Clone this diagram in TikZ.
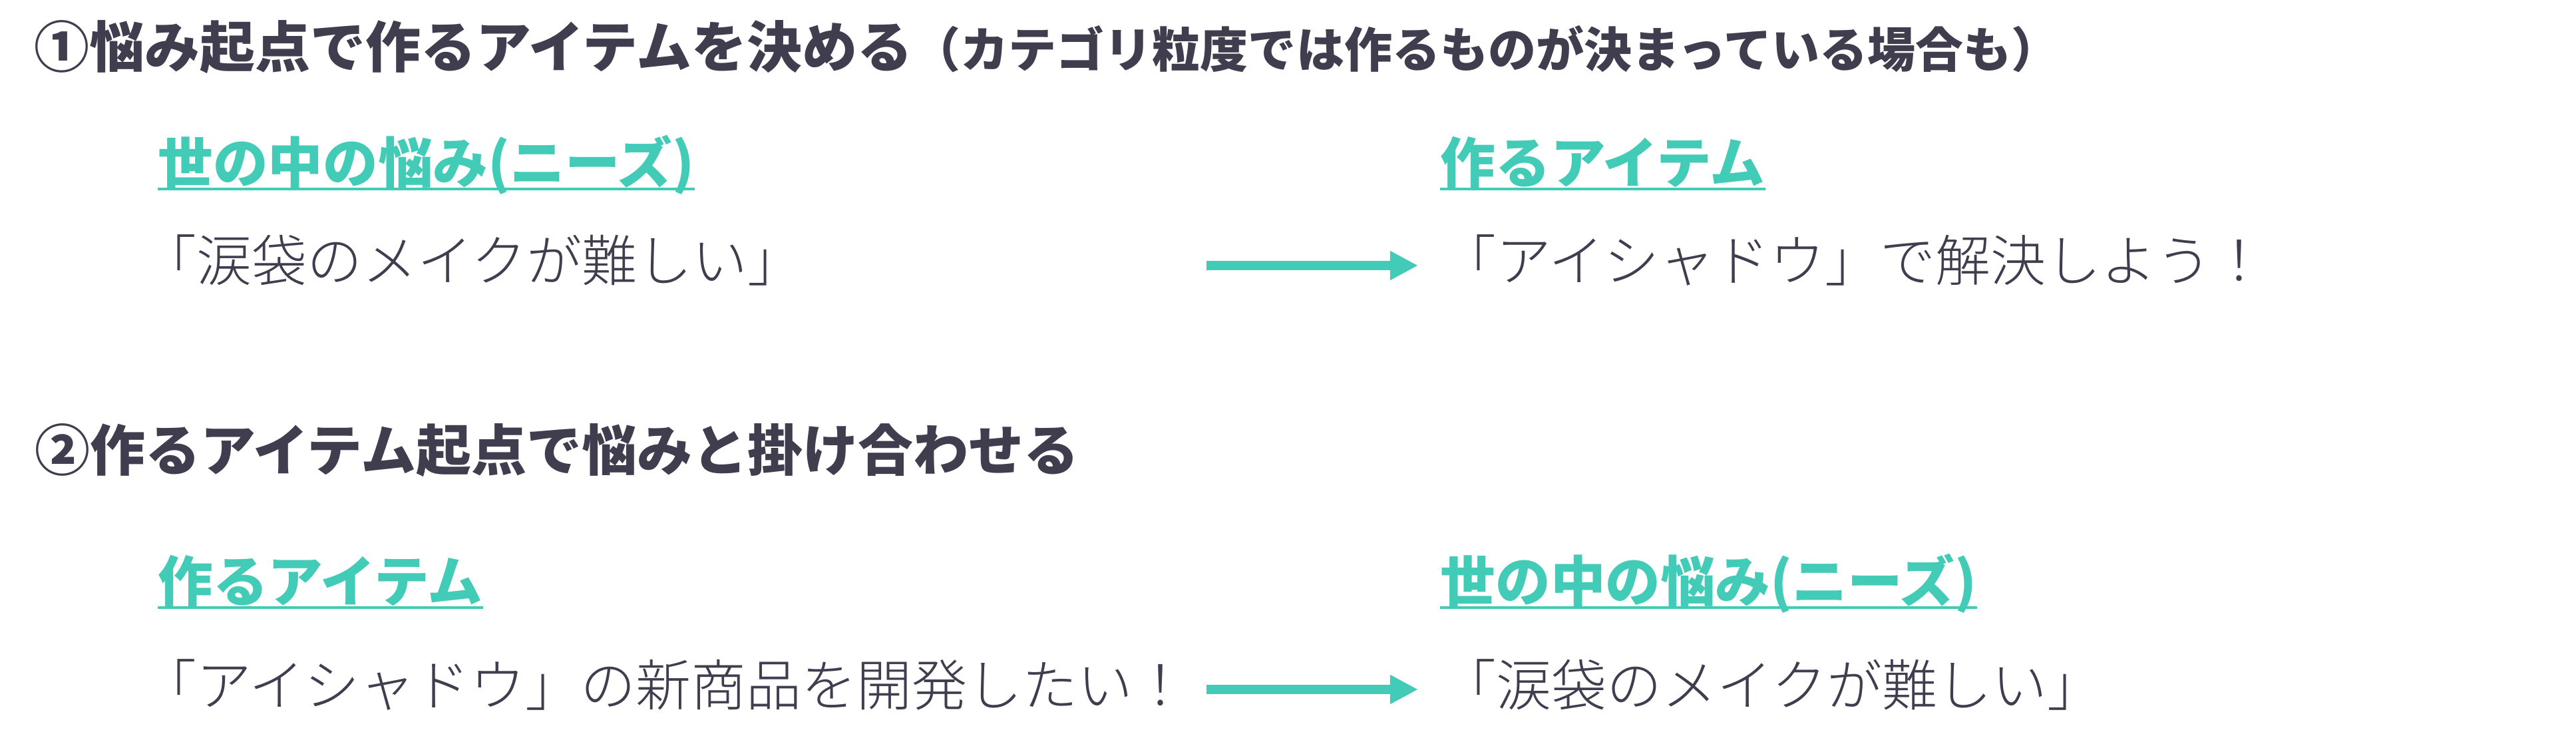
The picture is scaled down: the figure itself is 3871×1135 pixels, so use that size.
\documentclass[tikz,border=0pt]{standalone}
\usepackage{fontspec}
\setmainfont{Noto Sans CJK JP}
\IfFontExistsTF{Noto Sans CJK JP Light}
	{\newfontfamily\thinjp{Noto Sans CJK JP Light}}
	{\newfontfamily\thinjp{Noto Sans CJK JP}}
\usetikzlibrary{arrows.meta, positioning}
\definecolor{inkdark}{RGB}{63,61,78}
\definecolor{mint}{RGB}{66,203,183}

\begin{document}
\begin{tikzpicture}[x=0.01cm, y=-0.01cm,
		titletext/.style={anchor=base west, inner sep=0pt, text=inkdark, font=\fontsize{23.6}{28}\selectfont\bfseries},
		headtext/.style={anchor=base west, inner sep=0pt, text=mint, font=\fontsize{23.5}{28}\selectfont\bfseries},
		bodytext/.style={anchor=base west, inner sep=0pt, text=inkdark, font=\thinjp\fontsize{23.6}{28}\selectfont},
		flowarrow/.style={draw=mint, line width=0.14cm, -{Triangle[length=0.42cm, width=0.41cm]}},
		underbar/.style={draw=mint, line width=0.04cm}]
			\fill[white] (0,0) rectangle (3871,1135);
			\useasboundingbox (0,0) rectangle (3871,1135);
			\begin{scope}
				\node[titletext] (title1) at (51,101) {①悩み起点で作るアイテムを決める{\fontsize{20.5}{24}\selectfont（カテゴリ粒度では作るものが決まっている場合も）}};
				\node[headtext] (needs1) at (237,275) {世の中の悩み(ニーズ)};
				\node[bodytext] (worry1) at (212,422) {「涙袋のメイクが難しい」};
				\node[headtext] (item1) at (2164,275) {作るアイテム};
				\node[bodytext] (solve1) at (2165,422) {「アイシャドウ」で解決しよう！};
				\draw[underbar] ([yshift=-0.09cm]needs1.base west) -- ([yshift=-0.09cm]needs1.base east);
				\draw[underbar] ([yshift=-0.09cm]item1.base west) -- ([yshift=-0.09cm]item1.base east);
				\coordinate (from1) at (1813,399);
				\coordinate (to1) at (2131,399);
				\draw[flowarrow] (from1) -- (to1);
			\end{scope}
			\begin{scope}
				\node[titletext] (title2) at (52,707) {②作るアイテム起点で悩みと掛け合わせる};
				\node[headtext] (item2) at (237,904) {作るアイテム};
				\node[bodytext] (plan2) at (212,1060) {「アイシャドウ」の新商品を開発したい！};
				\node[headtext] (needs2) at (2164,904) {世の中の悩み(ニーズ)};
				\node[bodytext] (worry2) at (2165,1060) {「涙袋のメイクが難しい」};
				\draw[underbar] ([yshift=-0.09cm]item2.base west) -- ([yshift=-0.09cm]item2.base east);
				\draw[underbar] ([yshift=-0.09cm]needs2.base west) -- ([yshift=-0.09cm]needs2.base east);
				\coordinate (from2) at (1813,1036);
				\coordinate (to2) at (2131,1036);
				\draw[flowarrow] (from2) -- (to2);
			\end{scope}
		\end{tikzpicture}
\end{document}
